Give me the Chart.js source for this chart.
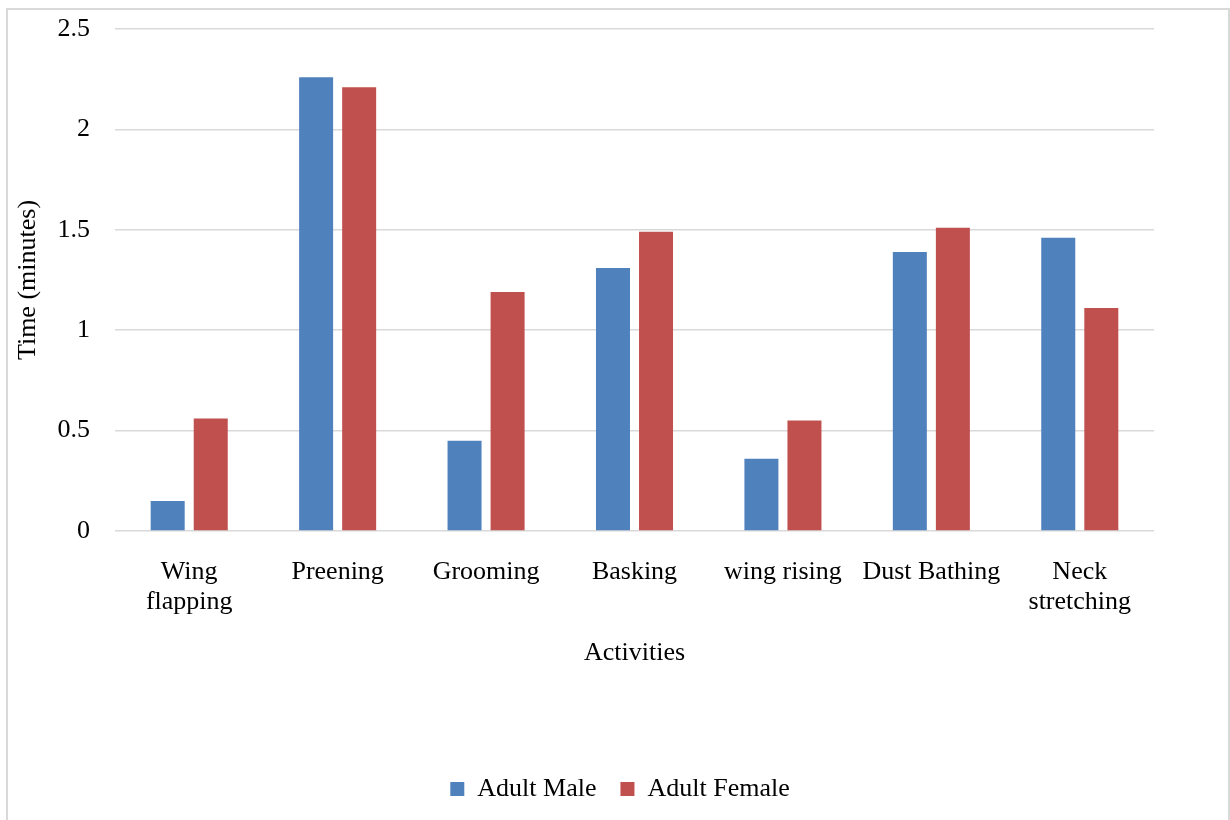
<!DOCTYPE html>
<html>
<head>
<meta charset="utf-8">
<script src="https://cdn.jsdelivr.net/npm/chart.js@4.4.1/dist/chart.umd.min.js"></script>
<style>
  html, body { margin: 0; padding: 0; background: #fff; overflow: hidden; }
  #frame { position: absolute; left: 6px; top: 8px; width: 1224px; height: 830px; box-sizing: border-box; border: 2px solid #d9d9d9; }
  #wrap { position: absolute; left: 0; top: 0; width: 1230px; height: 820px; }
</style>
</head>
<body>
<div id="frame"></div>
<div id="wrap"><canvas id="c" width="1230" height="820"></canvas></div>
<script>
const categories = [["Wing", "flapping"], "Preening", "Grooming", "Basking", "wing rising", "Dust Bathing", ["Neck", "stretching"]];
const adultMale = [0.15, 2.26, 0.45, 1.31, 0.36, 1.39, 1.46];
const adultFemale = [0.56, 2.21, 1.19, 1.49, 0.55, 1.51, 1.11];
const yTickLabels = ["0", "0.5", "1", "1.5", "2", "2.5"];
const seriesNames = ["Adult Male", "Adult Female"];
const yTitle = "Time (minutes)";
const xTitle = "Activities";

const FONT = "'Liberation Serif', 'Times New Roman', serif";
const baseFont = { family: FONT, size: 26, lineHeight: 30 / 26 };

new Chart(document.getElementById('c'), {
  type: 'bar',
  data: {
    labels: categories,
    datasets: [
      { label: seriesNames[0], data: adultMale, backgroundColor: '#4f81bd', categoryPercentage: 0.58, barPercentage: 0.79 },
      { label: seriesNames[1], data: adultFemale, backgroundColor: '#c0504d', categoryPercentage: 0.58, barPercentage: 0.79 }
    ]
  },
  options: {
    responsive: false,
    animation: false,
    devicePixelRatio: 1,
    layout: { padding: { top: 29, left: 10, right: 0, bottom: 8 } },
    plugins: {
      tooltip: { enabled: false },
      legend: {
        position: 'bottom',
        labels: { boxWidth: 14, boxHeight: 14, padding: 24, color: '#000', font: baseFont }
      }
    },
    scales: {
      x: {
        grid: { display: false, drawTicks: false },
        border: { display: false },
        ticks: { color: '#000', font: baseFont, padding: 26, maxRotation: 0, autoSkip: false },
        title: { display: true, text: xTitle, color: '#000', font: baseFont, padding: { top: 20, bottom: 84 } },
        afterFit: (s) => { s.height -= 25; }
      },
      y: {
        min: 0, max: 2.5,
        grid: { color: '#d9d9d9', lineWidth: 1.5, drawTicks: false },
        border: { display: false },
        ticks: {
          stepSize: 0.5, color: '#000', font: baseFont, padding: 25,
          callback: (v, i) => yTickLabels[i]
        },
        title: { display: true, text: yTitle, color: '#000', font: baseFont, padding: { top: 3, bottom: 0 } },
        afterFit: (s) => { s.width = 105; s.paddingTop = 0; s.paddingBottom = 0; }
      },
      y2: {
        position: 'right',
        display: true,
        grid: { display: false, drawTicks: false },
        border: { display: false },
        ticks: { display: false },
        afterFit: (s) => { s.width = 76; s.paddingTop = 0; s.paddingBottom = 0; }
      }
    }
  }
});
</script>
</body>
</html>
